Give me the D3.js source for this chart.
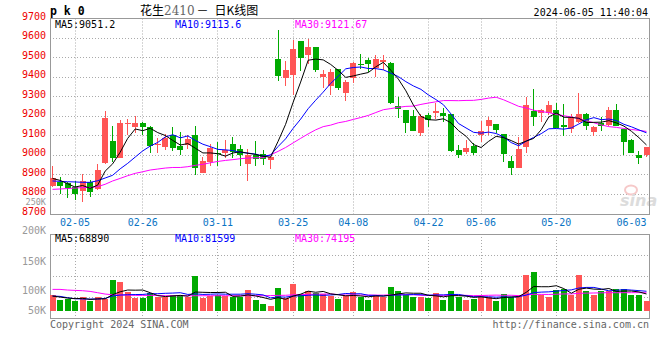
<!DOCTYPE html>
<html><head><meta charset="utf-8">
<script src="https://cdn.jsdelivr.net/npm/d3@7"></script>
<style>body{margin:0;background:#fff}svg{display:block}</style>
</head><body>
<svg id="c" width="660" height="360"></svg>
<script>
// ---------- DATA ----------
const dates = ["01-31","02-01","02-02","02-05","02-06","02-07","02-08","02-19","02-20","02-21",
"02-22","02-23","02-26","02-27","02-28","02-29","03-01","03-04","03-05","03-06",
"03-07","03-08","03-11","03-12","03-13","03-14","03-15","03-18","03-19","03-20",
"03-21","03-22","03-25","03-26","03-27","03-28","03-29","04-01","04-02","04-03",
"04-08","04-09","04-10","04-11","04-12","04-15","04-16","04-17","04-18","04-19",
"04-22","04-23","04-24","04-25","04-26","04-29","04-30","05-06","05-07","05-08",
"05-09","05-10","05-13","05-14","05-15","05-16","05-17","05-20","05-21","05-22",
"05-23","05-24","05-27","05-28","05-29","05-30","05-31","06-03","06-04","06-05"];
const opens = [8845,8862,8857,8836,8819,8862,8830,8962,9073,8988,
9162,9143,9166,9144,9051,9044,9103,9049,9052,9103,
8911,8964,9013,9012,9057,9032,8954,9001,9006,8976,
9491,9396,9410,9583,9512,9552,9401,9355,9440,9319,
9398,9469,9486,9447,9478,9472,9251,9231,9200,9115,
9205,9217,9219,9211,9027,9017,9046,9103,9149,9160,
9107,8971,8937,9044,9226,9219,9219,9231,9154,9137,
9171,9214,9120,9166,9154,9231,9134,9081,9001,9001];
const highs = [8944,8887,8865,8869,8903,8874,8954,9226,9149,9180,
9188,9202,9171,9150,9091,9108,9144,9119,9103,9149,
8991,9057,9066,9081,9093,9052,9032,9073,9027,8998,
9639,9481,9588,9583,9593,9555,9435,9444,9442,9384,
9475,9520,9498,9515,9512,9478,9299,9232,9234,9209,
9219,9270,9243,9214,9052,9076,9061,9175,9195,9162,
9108,8996,9093,9299,9338,9239,9277,9270,9265,9214,
9321,9215,9148,9197,9245,9265,9135,9082,9022,9044];
const lows = [8840,8802,8784,8773,8763,8789,8825,8958,8967,8985,
9103,9112,9103,9010,9013,9027,9022,9001,9035,8899,
8909,8947,8945,8984,8988,8945,8870,8947,8950,8930,
9381,9353,9307,9432,9466,9427,9347,9311,9336,9279,
9372,9444,9427,9401,9435,9265,9192,9115,9124,9098,
9146,9185,9171,9017,8988,9006,9001,9066,9103,9112,
8967,8899,8935,9013,9151,9171,9205,9140,9100,9112,
9168,9129,9100,9124,9149,9150,9001,9010,8954,8993];
const closes = [8883,8845,8831,8801,8869,8811,8925,9190,8988,9166,
9165,9166,9146,9049,9056,9091,9039,9029,9086,8937,
8971,9039,9008,9025,9018,9001,9001,8979,8979,8993,
9406,9435,9542,9498,9552,9435,9415,9425,9345,9374,
9472,9461,9466,9491,9489,9268,9236,9166,9127,9200,
9183,9226,9200,9022,9001,9040,9013,9124,9180,9129,
9008,8937,9035,9256,9197,9231,9260,9141,9146,9192,
9209,9151,9146,9151,9231,9151,9069,9013,8988,9044];
const volumes = [65600,44700,48900,41900,58700,41900,55900,50300,128500,120100,
78200,53100,53100,72600,58700,58700,65600,65600,55900,145300,
53100,61500,65600,61500,58700,58700,86600,44700,27900,19600,
95000,51700,111700,68400,82400,72600,68400,61500,48900,61500,
78200,58700,44700,65600,58700,99200,83800,65600,58700,58700,
54500,74000,44700,83800,58700,44700,47500,58700,58700,41900,
69800,58700,65600,149400,163400,65600,58700,86600,89400,65600,
149400,82400,65600,83800,83800,89400,89400,65600,65600,40500];
// moving-average values before enough history is on the chart
const ma5Head = [8882,8872,8855,8838];
const ma10Head = [8869,8867,8865,8864,8862,8862,8870,8884,8898];
const ma30Head = [8826,8828,8830,8833,8835,8836,8840,8852,8869,8882,8896,8908,8916,8925,8930,
8935,8938,8938,8942,8949,8954,8962,8969,8974,8978,8983,8986,8988,8988];
const volMa5Head = [61500,57300,53100,50300];
const volMa10Head = [61500,60100,54500,50300,48900,48900,48900,51700,61500];
const volMa30Head = [89400,89400,86600,85200,83800,81000,75400,69800,67000,65600,65600,64200,64200,64200,64200,
62800,62800,62800,62800,62800,62800,62800,62800,62800,62800,62800,62800,62800,62800];
const xTickLabels = ["02-05","02-26","03-11","03-25","04-08","04-22","05-06","05-20","06-03"];
const priceTicks = [8700,8800,8900,9000,9100,9200,9300,9400,9500,9600,9700];
const volTicks = [250000,200000,150000,100000,50000];
const volTickLabels = ["250K","200K","150K","100K","50K"];
const maLabels = ["MA5:9051.2","MA10:9113.6","MA30:9121.67"];
const volMaLabels = ["MA5:68890","MA10:81599","MA30:74195"];
const symbol = "p k 0";
const titleA = "花生", titleB = "2410", titleDash = "－", titleC = "日K线图";
const stamp = "2024-06-05 11:40:04";
const copyL = "Copyright 2024 SINA.COM", copyR = "http://finance.sina.com.cn";

// ---------- LAYOUT ----------
const L = 50, R = 649;
const mTop = 18.5, mBot = 214;
const vTop = 234, vBot = 318;
const RED = "#ff5555", GREEN = "#00aa00", GRID = "#aaaaaa", FRAME = "#999999";
const MONO = "'DejaVu Sans Mono', monospace";
const crisp = v => Math.floor(v) + 0.5;

const x = d3.scaleLinear().domain([0, closes.length - 1]).range([52.5, 646.5]);
const y = d3.scaleLinear().domain([8700, 9700]).range([mBot, mTop]);
const yv = d3.scaleLinear().domain([0, 200000]).range([310.7, 263]);
const yvLab = d3.scaleLinear().domain([50000,100000,150000,200000,250000]).range([310,290,261,230,202.5]);

function ma(arr, n, head) {
  return arr.map((_, i) => i < n - 1 ? head[i] : d3.mean(arr.slice(i - n + 1, i + 1)));
}
const svg = d3.select("#c");
svg.append("rect").attr("width",660).attr("height",360).attr("fill","#fff");

// ---------- GRID ----------
const g = svg.append("g");
const gridIdx = xTickLabels.map(d => dates.indexOf(d)).filter(i => x(i) < R - 20);
[[mTop, mBot], [vTop, vBot]].forEach(([t, b]) => {
  g.selectAll(null).data(gridIdx).join("line")
    .attr("x1", i => crisp(x(i))).attr("x2", i => crisp(x(i)))
    .attr("y1", t).attr("y2", b)
    .attr("stroke", GRID).attr("stroke-dasharray", "1,2");
});
g.selectAll(null).data(priceTicks.slice(1, -1)).join("line")
  .attr("x1", L).attr("x2", R).attr("y1", d => crisp(y(d))).attr("y2", d => crisp(y(d)))
  .attr("stroke", GRID).attr("stroke-dasharray", "1,2");
g.selectAll(null).data(d3.range(1, 4)).join("line")
  .attr("x1", L).attr("x2", R)
  .attr("y1", k => crisp(vTop + k * (vBot - vTop) / 4)).attr("y2", k => crisp(vTop + k * (vBot - vTop) / 4))
  .attr("stroke", GRID).attr("stroke-dasharray", "1,2");

// watermark
svg.append("ellipse").attr("cx", 631).attr("cy", 190).attr("rx", 6).attr("ry", 4.5)
  .attr("fill", "none").attr("stroke", "#f6c9c9").attr("stroke-width", 2);
svg.append("text").attr("x", 620).attr("y", 206).text("sina")
  .attr("font-family", "'DejaVu Sans', sans-serif").attr("font-size", 16).attr("font-weight", "bold")
  .attr("font-style", "italic").attr("fill", "#dcdcdc");

// ---------- FRAMES ----------
[[mTop, mBot], [vTop, vBot]].forEach(([t, b]) => {
  svg.append("rect").attr("x", L + 0.5).attr("y", crisp(t)).attr("width", R - L)
    .attr("height", crisp(b) - crisp(t)).attr("fill", "none").attr("stroke", FRAME);
});

// ---------- CANDLES ----------
const cg = svg.append("g").attr("shape-rendering", "crispEdges");
const idx = d3.range(closes.length);
const col = i => closes[i] >= opens[i] ? RED : GREEN;
cg.selectAll(".wick").data(idx).join("line")
  .attr("x1", i => crisp(x(i))).attr("x2", i => crisp(x(i)))
  .attr("y1", i => y(highs[i])).attr("y2", i => y(lows[i]))
  .attr("stroke", col);
cg.selectAll(".body").data(idx).join("rect")
  .attr("x", i => Math.round(x(i)) - 3).attr("width", 6)
  .attr("y", i => y(Math.max(opens[i], closes[i])))
  .attr("height", i => Math.max(1, Math.abs(y(opens[i]) - y(closes[i]))))
  .attr("fill", col);

// ---------- VOLUME BARS ----------
cg.selectAll(".vb").data(idx).join("rect")
  .attr("x", i => Math.round(x(i)) - 3).attr("width", 6)
  .attr("y", i => yv(volumes[i])).attr("height", i => yv(0) - yv(volumes[i]))
  .attr("fill", col);

// ---------- MA LINES ----------
const lineP = d3.line().x((d, i) => x(i)).y(d => y(d));
const lineV = d3.line().x((d, i) => x(i)).y(d => yv(d));
const series = [
  [ma(closes, 30, ma30Head), "#ff00ff", lineP],
  [ma(closes, 10, ma10Head), "#0000ff", lineP],
  [ma(closes, 5, ma5Head), "#000000", lineP],
  [ma(volumes, 30, volMa30Head), "#ff00ff", lineV],
  [ma(volumes, 10, volMa10Head), "#0000ff", lineV],
  [ma(volumes, 5, volMa5Head), "#000000", lineV]
];
series.forEach(([vals, c, ln]) => {
  svg.append("path").attr("d", ln(vals)).attr("fill", "none").attr("stroke", c).attr("stroke-width", 1);
});

// ---------- TEXT ----------
const t = (xx, yy, s, fill, anchor, size) => svg.append("text").attr("x", xx).attr("y", yy)
  .attr("dy", "0.35em").attr("font-family", MONO).attr("font-size", size || 10)
  .attr("fill", fill).attr("text-anchor", anchor || "start").text(s);

priceTicks.forEach(v => t(46, y(v) - 2.5, v, "#ee0000", "end"));
volTicks.forEach((v, k) => t(46, yvLab(v), volTickLabels[k], "#999999", "end", k === 0 ? 8.5 : 10));
xTickLabels.forEach(d => t(x(dates.indexOf(d)), 222, d, "#0a74c4", "middle"));

const maCols = ["#000000", "#0000ff", "#ff00ff"];
const maX = [55, 175, 295];
maLabels.forEach((s, k) => t(maX[k], 24.5, s, maCols[k]));
volMaLabels.forEach((s, k) => t(maX[k], 238.5, s, maCols[k]));

t(648, 12, stamp, "#000", "end");
t(50, 324, copyL, "#666");
t(649, 324, copyR, "#666", "end");

svg.append("text").attr("x", 50).attr("y", 15).attr("font-family", MONO).attr("font-size", 11.5)
  .attr("font-weight", "bold").attr("fill", "#000").text(symbol);
const tt = svg.append("text").attr("x", 140).attr("y", 15)
  .attr("font-family", "'Noto Sans CJK SC', sans-serif").attr("font-size", 12).attr("fill", "#000");
tt.append("tspan").text(titleA);
tt.append("tspan").attr("fill", "#666").attr("font-family", "'DejaVu Serif', serif").text(titleB);
tt.append("tspan").attr("dx", 2).text(titleDash);
tt.append("tspan").attr("dx", 6).text(titleC);
</script>
</body></html>
